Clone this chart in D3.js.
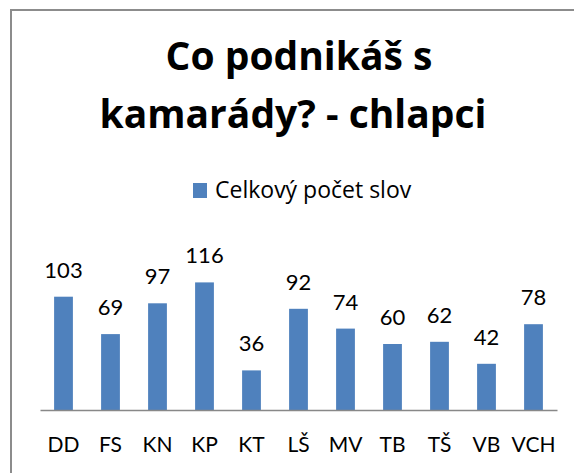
<!DOCTYPE html>
<html>
<head>
<meta charset="utf-8">
<script src="https://cdn.jsdelivr.net/npm/d3@7"></script>
<style>
  body { margin: 0; background: #fff; }
  text { font-family: Lato, "Open Sans", sans-serif; fill: #000; }
</style>
</head>
<body>
<script>
var categories = ['DD', 'FS', 'KN', 'KP', 'KT', 'LŠ', 'MV', 'TB', 'TŠ', 'VB', 'VCH'];
var values = [103, 69, 97, 116, 36, 92, 74, 60, 62, 42, 78];
var titleLines = ['Co podnikáš s', 'kamarády? - chlapci'];
var seriesName = 'Celkový počet slov';

var W = 574, H = 473;

var svg = d3.select("body").append("svg")
    .attr("width", W)
    .attr("height", H);

// chart frame (right and bottom sides fall outside the picture)
svg.append("rect")
    .attr("x", 11)
    .attr("y", 10)
    .attr("width", 700)
    .attr("height", 600)
    .attr("fill", "#fff")
    .attr("stroke", "#8c8c8c")
    .attr("stroke-width", 2);

// title
svg.append("g")
    .selectAll("text")
    .data(titleLines)
    .enter()
    .append("text")
    .attr("x", function (d, i) { return i == 0 ? 299 : 293; })
    .attr("y", function (d, i) { return 70 + i * 58; })
    .attr("text-anchor", "middle")
    .style("font-family", "'Open Sans', sans-serif")
    .style("font-weight", "bold")
    .style("font-size", "39px")
    .text(function (d) { return d; });

// legend
var legend = svg.append("g");
legend.append("rect")
    .attr("x", 193)
    .attr("y", 183)
    .attr("width", 14)
    .attr("height", 15)
    .attr("fill", "#4f81bd");
legend.append("text")
    .attr("x", 215)
    .attr("y", 198)
    .style("font-family", "'Open Sans', sans-serif")
    .style("font-size", "23px")
    .text(seriesName);

var x = d3.scaleBand()
    .range([40, 557])
    .paddingInner(0.6)
    .paddingOuter(0.3)
    .domain(categories);

var y = d3.scaleLinear()
    .range([410, 256])
    .domain([0, 140]);

svg.append("g")
    .selectAll("rect")
    .data(values)
    .enter()
    .append("rect")
    .attr("x", function (d, i) { return x(categories[i]); })
    .attr("width", x.bandwidth())
    .attr("y", function (d) { return y(d); })
    .attr("height", function (d) { return y(0) - y(d); })
    .attr("fill", "#4f81bd");

// value labels
svg.append("g")
    .selectAll("text")
    .data(values)
    .enter()
    .append("text")
    .attr("x", function (d, i) { return x(categories[i]) + x.bandwidth() / 2; })
    .attr("y", function (d) { return y(d) - 19; })
    .attr("text-anchor", "middle")
    .style("font-size", "22px")
    .text(function (d) { return d; });

// category axis
var xAxis = svg.append("g")
    .attr("transform", "translate(0," + y(0) + ")")
    .call(d3.axisBottom(x).tickSize(0).tickPadding(27));
xAxis.select(".domain")
    .attr("stroke", "#888")
    .attr("stroke-width", 1.5);
xAxis.selectAll("text")
    .style("font-family", "Lato, 'Open Sans', sans-serif")
    .style("font-size", "21px")
    .attr("fill", "#000");
</script>
</body>
</html>
